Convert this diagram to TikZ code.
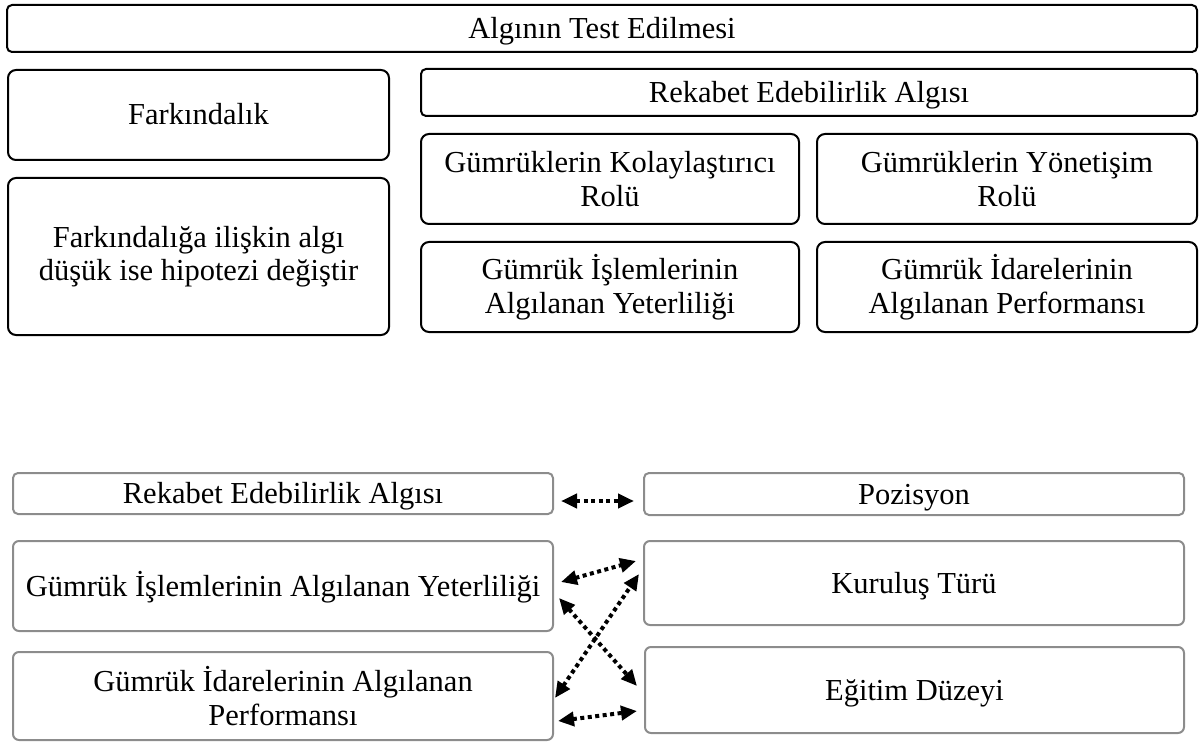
\documentclass[tikz,border=0pt]{standalone}
\usepackage{fontspec}
\setmainfont{Liberation Serif}
\usetikzlibrary{arrows.meta,calc}
\definecolor{boxgray}{HTML}{8C8C8C}
\begin{document}
\begin{tikzpicture}[x=1pt,y=-1pt,
  blk/.style={draw=black,line width=2pt,rounded corners=8pt,inner sep=0pt,
    font=\fontsize{30.5}{33.5}\selectfont},
  one/.style={text height=20pt,text depth=0pt},
  two/.style={align=center},
  gry/.style={blk,draw=boxgray,rounded corners=6pt},
  link/.style={line width=4pt,dash pattern=on 4pt off 3.5pt,
    {Triangle[length=16pt,width=14pt]}-{Triangle[length=16pt,width=14pt]}}]
\useasboundingbox (0,0) rectangle (1199,743);
% upper part
\node[blk,one,rounded corners=5pt,minimum width=1190,minimum height=47] (top) at (602,28.5) {Algının Test Edilmesi};
\node[blk,one,minimum width=381,minimum height=90] (fark) at (198.5,115) {Farkındalık};
\node[blk,two,minimum width=381,minimum height=157] (fark2) at (198.5,256.5) {Farkındalığa ilişkin algı\\düşük ise hipotezi değiştir};
\node[blk,one,rounded corners=5pt,minimum width=776,minimum height=47] (rek1) at (809,92.5) {Rekabet Edebilirlik Algısı};
\node[blk,two,minimum width=378,minimum height=90] (kol) at (610,179) {Gümrüklerin Kolaylaştırıcı\\Rolü};
\node[blk,two,minimum width=380,minimum height=90] (yon) at (1007,179) {Gümrüklerin Yönetişim\\Rolü};
\node[blk,two,minimum width=378,minimum height=90] (isl1) at (610,287) {Gümrük İşlemlerinin\\Algılanan Yeterliliği};
\node[blk,two,minimum width=380,minimum height=90] (ida1) at (1007,287) {Gümrük İdarelerinin\\Algılanan Performansı};
% lower part
\node[gry,one,rounded corners=5pt,minimum width=540,minimum height=41] (rek2) at (283,493.5) {Rekabet Edebilirlik Algısı};
\node[gry,one,rounded corners=5pt,minimum width=540,minimum height=42] (poz) at (914,494) {Pozisyon};
\node[gry,one,minimum width=540,minimum height=90] (isl2) at (283,586) {Gümrük İşlemlerinin Algılanan Yeterliliği};
\node[gry,one,minimum width=540,minimum height=84] (kur) at (914,583) {Kuruluş Türü};
\node[gry,two,minimum width=540,minimum height=88] (ida2) at (283,696) {Gümrük İdarelerinin Algılanan\\Performansı};
\node[gry,one,minimum width=539,minimum height=86] (egi) at (914.5,690) {Eğitim Düzeyi};
% connectors
\draw[link] ($(rek2.east)+(7,7.5)$) -- ($(poz.west)+(-9,7)$);
\draw[link] ($(isl2.east)+(7,-4)$) -- ($(kur.west)+(-7,-22)$);
\draw[link] ($(isl2.east)+(5,12)$) -- ($(egi.west)+(-7,-4)$);
\draw[link] ($(ida2.east)+(1,2)$) -- ($(kur.west)+(-4,-9)$);
\draw[link] ($(ida2.east)+(4,25)$) -- ($(egi.west)+(-7,21)$);
\end{tikzpicture}
\end{document}
